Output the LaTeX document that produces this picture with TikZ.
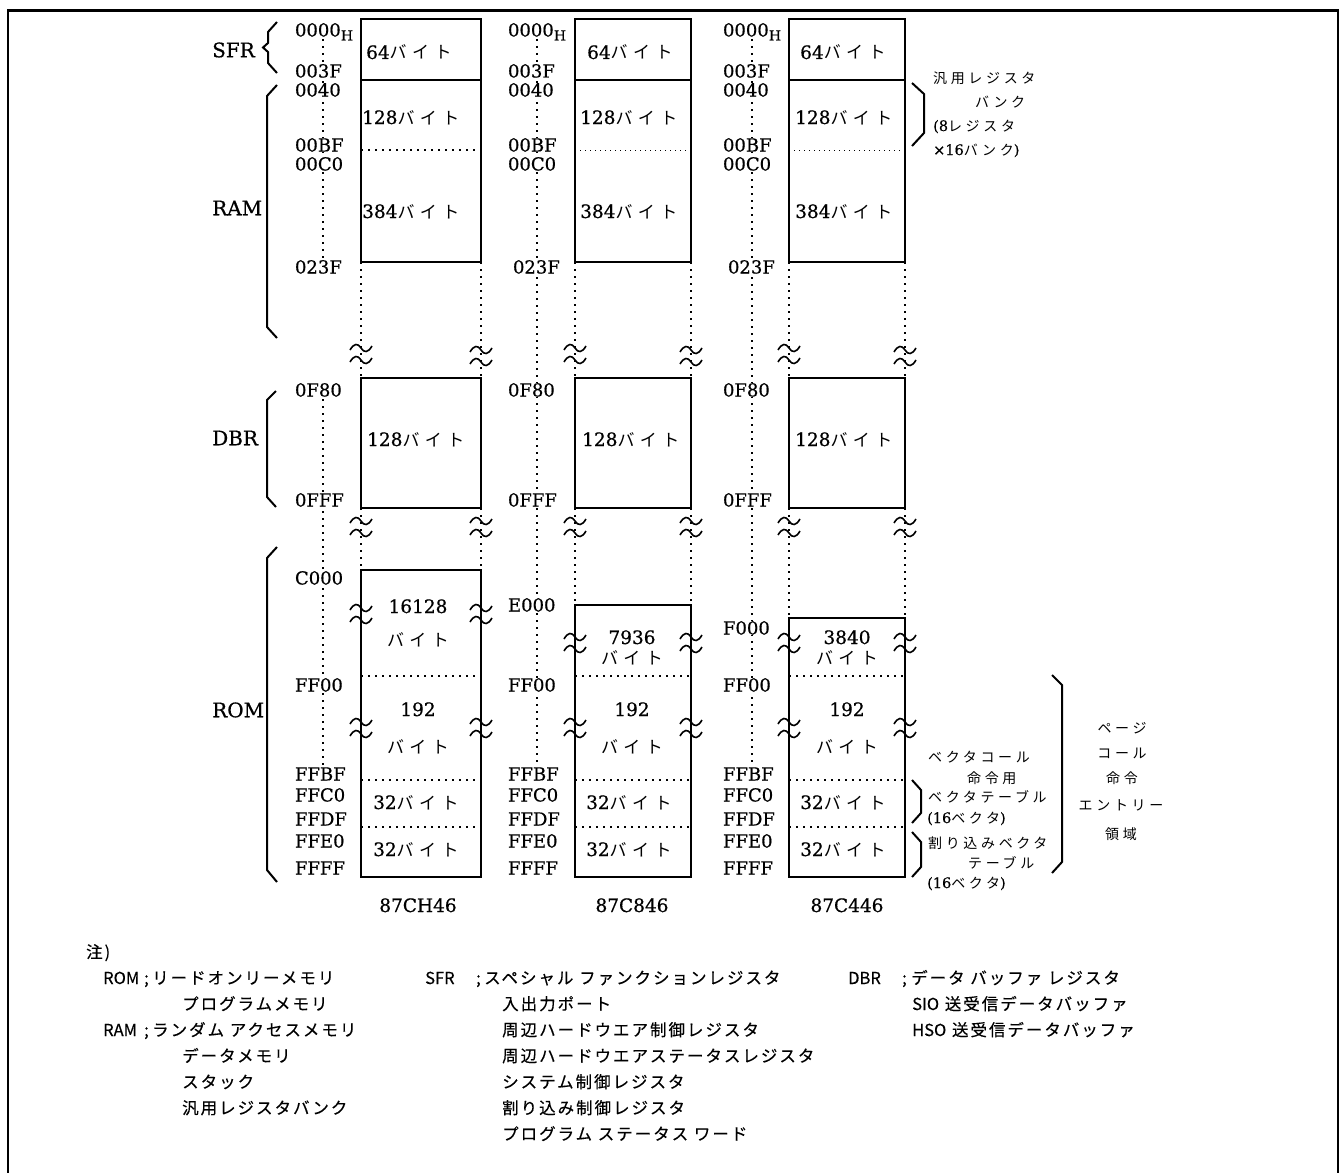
\documentclass[tikz,border=0pt]{standalone}
\usepackage{fontspec}
\setmainfont[FakeBold=0.6]{DejaVu Serif}
\newfontfamily\jp[FakeBold=0.3]{Noto Sans CJK JP}
\newfontfamily\jpb[LetterSpace=32]{Noto Sans CJK JP}
\newfontfamily\jpr[LetterSpace=26]{Noto Sans CJK JP}
\newfontfamily\jpn[LetterSpace=12,FakeBold=0.3]{Noto Sans CJK JP}
\newcommand\sz[1]{\fontsize{#1}{#1}\selectfont}
\newcommand\bt{{\jpb\sz{17}バイト}}
\begin{document}
\begin{tikzpicture}[x=1pt,y=-1pt,
  frame/.style={line width=2.7pt},
  mbox/.style={line width=2pt},
  dots/.style={line width=1.8pt,dash pattern=on 1.8pt off 5.2pt},
  thindots/.style={line width=1pt,dash pattern=on 1pt off 4pt},
  brace/.style={line width=2pt,line join=miter},
  addr/.style={anchor=west,inner sep=0.8pt,fill=white,font=\sz{18},text height=13pt,text depth=0pt},
  sect/.style={anchor=west,inner sep=0pt,font=\sz{20},text height=14.5pt,text depth=0pt},
  lbl/.style={anchor=west,inner sep=0pt,font=\sz{18.5},text height=14pt,text depth=2pt},
  clbl/.style={anchor=center,inner sep=0pt,font=\sz{18.5},text height=14pt,text depth=2pt},
  rtxt/.style={anchor=west,inner sep=0pt,font=\jpr\sz{14},text height=12pt,text depth=2pt},
  ctxt/.style={anchor=center,inner sep=0pt,font=\jpr\sz{14},text height=12pt,text depth=2pt},
  note/.style={anchor=west,inner sep=0pt,font=\jpn\sz{16.5},text height=14pt,text depth=2pt},
  brk/.pic={\foreach \yy in {-6,6}{\draw[line width=1.6pt] (-11,\yy+2) .. controls (-7,\yy-5) and (-3,\yy-5) .. (0,\yy) .. controls (3,\yy+5) and (7,\yy+5) .. (11,\yy-2);}}
]
\useasboundingbox (0,0) rectangle (1343,1172);
\draw[frame] (8,1185) -- (8,10.5) -- (1338,10.5) -- (1338,1185);

\foreach \c/\L/\R/\ax/\dx/\ux/\mx/\rt/\ra/\ray/\rn/\rny/\bty/\wy/\xa/\xb/\xc/\xd/\chip in {
 1/361/481/294/323/294/418/570/C000/578/16128/607/640/614/366/362/367/373/87CH46,
 2/575/691/507/537/512/632/605/E000/605/7936/638/658/643/587/580/582/586/87C846,
 3/789/905/722/752/727/847/618/F000/628/3840/638/658/643/800/795/795/800/87C446}
{
 % address dotted line
 \ifnum\c=1
   \draw[dots] (\dx,32) -- (\dx,258);
   \draw[dots] (\dx,385) -- (\dx,768);
 \else
   \draw[dots] (\dx,32) -- (\dx,768);
 \fi
 % dotted continuation of box edges
 \draw[dots] (\L,262) -- (\L,378) (\R,262) -- (\R,378);
 \draw[dots] (\L,508) -- (\L,\rt) (\R,508) -- (\R,\rt);
 % boxes
 \draw[mbox] (\L,19) rectangle (\R,262);
 \draw[mbox] (\L,80) -- (\R,80);
 \ifnum\c=1 \draw[dots] (\L,150) -- (\R,150); \else \draw[thindots] (\L,150) -- (\R,150); \fi
 \draw[mbox] (\L,378) rectangle (\R,508);
 \draw[mbox] (\L,\rt) rectangle (\R,877);
 \draw[dots] (\L,676) -- (\R,676) (\L,780) -- (\R,780) (\L,827) -- (\R,827);
 % break marks
 \pic at (\L,354) {brk}; \pic at (\R,356) {brk};
 \pic at (\L,527) {brk}; \pic at (\R,527) {brk};
 \pic at (\L,\wy) {brk}; \pic at (\R,\wy) {brk};
 \pic at (\L,728) {brk}; \pic at (\R,728) {brk};
 % address labels
 \node[addr] (a0000-\c) at (\ax,30) {0000{\sz{14}\raisebox{-4pt}{H}}};
 \node[addr] (a003F-\c) at (\ax,71) {003F};
 \node[addr] (a0040-\c) at (\ax,90) {0040};
 \node[addr] (a00BF-\c) at (\ax,145) {00BF};
 \node[addr] (a00C0-\c) at (\ax,164) {00C0};
 \node[addr] (a023F-\c) at (\ux,267) {023F};
 \node[addr] (a0F80-\c) at (\ax,390) {0F80};
 \node[addr] (a0FFF-\c) at (\ax,500) {0FFF};
 \node[addr] (arom-\c) at (\ax,\ray) {\ra};
 \node[addr] (aFF00-\c) at (\ax,685) {FF00};
 \node[addr] (aFFBF-\c) at (\ax,774) {FFBF};
 \node[addr] (aFFC0-\c) at (\ax,795) {FFC0};
 \node[addr] (aFFDF-\c) at (\ax,819) {FFDF};
 \node[addr] (aFFE0-\c) at (\ax,841) {FFE0};
 \node[addr] (aFFFF-\c) at (\ax,868) {FFFF};
 % sizes
 \node[lbl] (t64-\c) at (\xa,53) {64\bt};
 \node[lbl] (t128-\c) at (\xb,118) {128\bt};
 \node[lbl] (t384-\c) at (\xb,212) {384\bt};
 \node[lbl] (tdbr-\c) at (\xc,440) {128\bt};
 \node[clbl] (trn-\c) at (\mx,\rny) {\rn};
 \node[clbl] (trb-\c) at (\mx,\bty) {\bt};
 \node[clbl] (t192-\c) at (\mx,710) {192};
 \node[clbl] (t192b-\c) at (\mx,747) {\bt};
 \node[lbl] (t32a-\c) at (\xd,803) {32\bt};
 \node[lbl] (t32b-\c) at (\xd,850) {32\bt};
 \node[clbl] (chip-\c) at (\mx,906) {\chip};
}

% left section labels and braces
\node[sect] (sfr) at (212,50) {SFR};
\node[sect] (ram) at (212,208) {RAM};
\node[sect] (dbr) at (212,438) {DBR};
\node[sect] (rom) at (212,710) {ROM};
\draw[brace] (277,22) -- (268,32) -- (268,43) -- (263,47.5) -- (268,52) -- (268,63) -- (277,73);
\draw[brace] (277,85) -- (267,96) -- (267,327) -- (277,338);
\draw[brace] (276,391) -- (267,400) -- (267,497) -- (276,507);
\draw[brace] (277,547) -- (267,558) -- (267,870) -- (277,882);

% right braces
\draw[brace] (912,83) -- (924,94) -- (924,133) -- (912,146);
\draw[brace] (912,780) -- (921,790) -- (921,813) -- (912,823);
\draw[brace] (912,832) -- (921,842) -- (921,867) -- (912,877);
\draw[brace] (1052,675) -- (1062,685) -- (1062,862) -- (1052,873);

% right texts
\node[rtxt] (gr1) at (933,78) {汎用レジスタ};
\node[rtxt] (gr2) at (975,102) {バンク};
\node[rtxt] (gr3) at (933,126) {{\rmfamily\sz{14.5}(8}レジスタ};
\node[rtxt] (gr4) at (933,150) {{\rmfamily\sz{14.5}×16}バンク{\rmfamily\sz{14.5})}};
\node[rtxt] (vc1) at (928,757) {ベクタコール};
\node[rtxt] (vc2) at (967,778) {命令用};
\node[rtxt] (vc3) at (928,797) {ベクタテーブル};
\node[rtxt] (vc4) at (927,818) {{\rmfamily\sz{14.5}(16}ベクタ{\rmfamily\sz{14.5})}};
\node[rtxt] (iv1) at (928,843) {割り込みベクタ};
\node[rtxt] (iv2) at (968,863) {テーブル};
\node[rtxt] (iv3) at (927,883) {{\rmfamily\sz{14.5}(16}ベクタ{\rmfamily\sz{14.5})}};
\node[ctxt] (pc1) at (1122,728) {ページ};
\node[ctxt] (pc2) at (1122,753) {コール};
\node[ctxt] (pc3) at (1122,778) {命令};
\node[ctxt] (pc4) at (1121,805) {エントリー};
\node[ctxt] (pc5) at (1121,834) {領域};

% notes
\node[note] (n0) at (86,952) {注)};
\node[note] (nrom) at (103,978) {\jp ROM};
\node[note] (nrom-s) at (144,978) {\jp ;};
\node[note] (nrom-t) at (152,978) {リードオンリーメモリ};
\node[note] (nrom-1) at (182,1004) {プログラムメモリ};
\node[note] (nram) at (103,1030) {\jp RAM};
\node[note] (nram-s) at (144,1030) {\jp ;};
\node[note] (nram-t) at (152,1030) {ランダム アクセスメモリ};
\node[note] (nram-1) at (182,1056) {データメモリ};
\node[note] (nram-2) at (182,1082) {スタック};
\node[note] (nram-3) at (182,1108) {汎用レジスタバンク};
\node[note] (nsfr) at (425,978) {\jp SFR};
\node[note] (nsfr-s) at (476,978) {\jp ;};
\node[note] (nsfr-t) at (484,978) {スペシャル ファンクションレジスタ};
\node[note] (nsfr-1) at (502,1004) {入出力ポート};
\node[note] (nsfr-2) at (502,1030) {周辺ハードウエア制御レジスタ};
\node[note] (nsfr-3) at (502,1056) {周辺ハードウエアステータスレジスタ};
\node[note] (nsfr-4) at (502,1082) {システム制御レジスタ};
\node[note] (nsfr-5) at (502,1108) {割り込み制御レジスタ};
\node[note] (nsfr-6) at (502,1134) {プログラム ステータス ワード};
\node[note] (ndbr) at (848,978) {\jp DBR};
\node[note] (ndbr-s) at (902,978) {\jp ;};
\node[note] (ndbr-t) at (911,978) {データ バッファ レジスタ};
\node[note] (ndbr-1) at (912,1004) {{\jp SIO} 送受信データバッファ};
\node[note] (ndbr-2) at (912,1030) {{\jp HSO} 送受信データバッファ};
\end{tikzpicture}
\end{document}
